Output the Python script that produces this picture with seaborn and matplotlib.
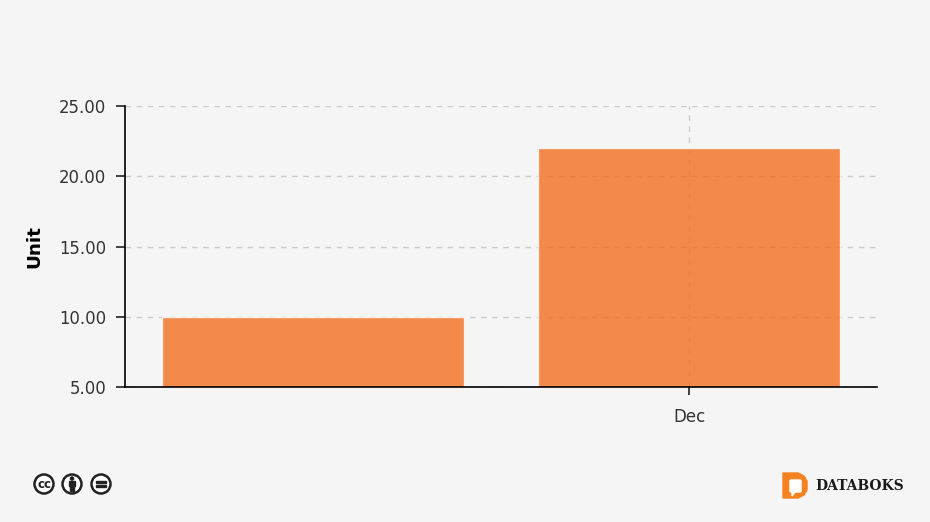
import matplotlib
matplotlib.use('Agg')
import matplotlib.pyplot as plt
from matplotlib.patches import Circle, FancyBboxPatch, Polygon, Rectangle
import pandas as pd
import seaborn as sns

categories = ['', 'Dec']
values = [10.0, 22.0]
y_ticks = [5, 10, 15, 20, 25]

BG = '#f5f5f5'
df = pd.DataFrame({'cat': categories, 'val': values})

sns.set_theme(style='white', rc={'figure.facecolor': BG, 'axes.facecolor': BG})
plt.rcParams['font.family'] = ['DejaVu Sans']

fig = plt.figure(figsize=(9.3, 5.22), dpi=100)
ax = fig.add_axes([125 / 930, 1 - 387 / 522, 752 / 930, 281 / 522])

sns.barplot(data=df, x='cat', y='val', color='#f37021', saturation=1, alpha=0.8,
            width=0.805, ax=ax, zorder=2)

ax.set_xlim(-0.5, 1.5)
ax.set_ylim(5, 25)
ax.set_yticks(y_ticks)
ax.set_yticklabels(['{:.2f}'.format(v) for v in y_ticks], fontsize=11.9, color='#333333')
ax.set_xticks([1])
ax.set_xticklabels(['Dec'], fontsize=12, color='#333333')
ax.set_xlabel('')
ax.set_ylabel('Unit', fontsize=13.2, fontweight='bold', color='black', labelpad=11.5)
ax.tick_params(axis='y', which='major', length=6.5, width=1.2, color='#222222', left=True, pad=7)
ax.tick_params(axis='x', which='major', length=5.5, width=1.2, color='#222222', bottom=True, pad=9.5)

ax.set_axisbelow(True)
ax.grid(True, axis='both', color='#cccccc', linestyle=(0, (4, 4)), linewidth=1)
for s in ['top', 'right']:
    ax.spines[s].set_visible(False)
for s in ['left', 'bottom']:
    ax.spines[s].set_color('black')
    ax.spines[s].set_linewidth(1.2)
    ax.spines[s].set_zorder(5)

# footer: licence icons and logo, in pixel coordinates
ov = fig.add_axes([0, 0, 1, 1], facecolor='none')
ov.set_xlim(0, 930)
ov.set_ylim(522, 0)
ov.axis('off')

for cx in [44, 72, 101]:
    ov.add_patch(Circle((cx, 484), 9.5, facecolor='white', edgecolor='#222222', linewidth=1.8))
ov.text(44, 484, 'cc', fontsize=8.5, fontweight='bold', color='#222222', ha='center', va='center')
ov.add_patch(Circle((72, 478.5), 1.6, color='#222222'))
ov.add_patch(Rectangle((69.3, 481), 5.4, 5, color='#222222'))
ov.add_patch(Rectangle((70.4, 485), 3.2, 6, color='#222222'))
ov.add_patch(Rectangle((96, 480.8), 10, 2.2, color='#222222'))
ov.add_patch(Rectangle((96, 485), 10, 2.2, color='#222222'))

ov.add_patch(Polygon([(783, 473), (798, 473), (804, 476), (807, 481), (807, 490), (804, 495), (798, 498), (783, 498)],
                     closed=True, color='#f58220'))
ov.add_patch(FancyBboxPatch((791, 481), 9, 10, boxstyle='round,pad=1', color='white'))
ov.add_patch(Polygon([(792, 491), (796, 491), (792, 496)], closed=True, color='white'))
ov.text(815, 486, 'DATABOKS', fontsize=10, fontweight='bold', family='DejaVu Serif',
        color='#1a1a1a', ha='left', va='center')

fig.savefig('out.png', dpi=100, facecolor=BG)
